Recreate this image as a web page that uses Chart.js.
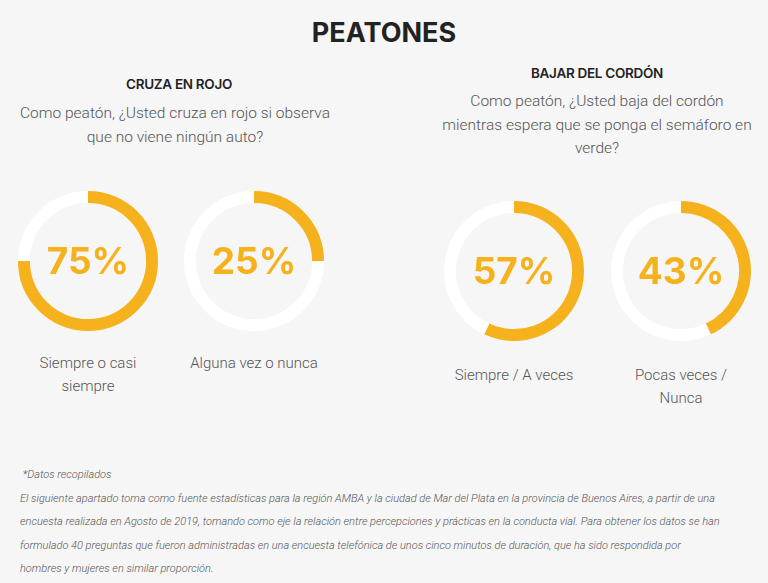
<!DOCTYPE html>
<html>
<head>
<meta charset="utf-8">
<script src="https://cdn.jsdelivr.net/npm/chart.js@4"></script>
<style>
    body { margin: 0; background: #f6f6f6; width: 768px; height: 583px; position: relative; overflow: hidden; font-family: Roboto, sans-serif; }
    .t { position: absolute; text-align: center; white-space: nowrap; }
    #title { left: 0; width: 768px; top: 16px; font: 700 27px Inter, sans-serif; color: #222; }
    .head { font: 600 13.5px Inter, sans-serif; color: #222; letter-spacing: -0.3px; }
    .q { font: 300 15.5px Roboto, sans-serif; color: #555; line-height: 23.5px; }
    .lab { font: 300 15px Roboto, sans-serif; color: #555; line-height: 23px; }
    canvas { position: absolute; }
    #foot { position: absolute; left: 20px; top: 463px; width: 748px; white-space: nowrap; font: italic 300 11px Roboto, sans-serif; color: #555; line-height: 23.6px; }
</style>
</head>
<body>
<div id="title" class="t">PEATONES</div>

<div class="t head" style="left:79px;width:200px;top:76px">CRUZA EN ROJO</div>
<div class="t q" style="left:0;width:350px;top:102px">Como peatón, ¿Usted cruza en rojo si observa<br>que no viene ningún auto?</div>

<div class="t head" style="left:497px;width:200px;top:65px">BAJAR DEL CORDÓN</div>
<div class="t q" style="left:420px;width:354px;top:90px">Como peatón, ¿Usted baja del cordón<br>mientras espera que se ponga el semáforo en<br>verde?</div>

<canvas id="c0" width="140" height="140" style="left:18px;top:191px"></canvas>
<canvas id="c1" width="140" height="140" style="left:184px;top:191px"></canvas>
<canvas id="c2" width="140" height="140" style="left:444px;top:201px"></canvas>
<canvas id="c3" width="140" height="140" style="left:611px;top:201px"></canvas>

<div class="t lab" style="left:8px;width:160px;top:352px">Siempre o casi<br>siempre</div>
<div class="t lab" style="left:174px;width:160px;top:352px">Alguna vez o nunca</div>
<div class="t lab" style="left:434px;width:160px;top:364px">Siempre / A veces</div>
<div class="t lab" style="left:601px;width:160px;top:364px">Pocas veces /<br>Nunca</div>

<div id="foot">&nbsp;*Datos recopilados<br>El siguiente apartado toma como fuente estadísticas para la región AMBA y la ciudad de Mar del Plata en la provincia de Buenos Aires, a partir de una<br>encuesta realizada en Agosto de 2019, tomando como eje la relación entre percepciones y prácticas en la conducta vial. Para obtener los datos se han<br>formulado 40 preguntas que fueron administradas en una encuesta telefónica de unos cinco minutos de duración, que ha sido respondida por<br>hombres y mujeres en similar proporción.</div>

<script>
// data
const cruzaLabels = ['Siempre o casi siempre', 'Alguna vez o nunca'];
const cruzaValues = [75, 25];
const cordonLabels = ['Siempre / A veces', 'Pocas veces / Nunca'];
const cordonValues = [57, 43];

const orange = '#f5b21c';

// draws the big % in the hole
const centerText = {
    id: 'centerText',
    afterDraw(chart) {
        const meta = chart.getDatasetMeta(0).data[0];
        const ctx = chart.ctx;
        ctx.save();
        ctx.font = '700 37px Inter, sans-serif';
        ctx.fillStyle = orange;
        ctx.textAlign = 'center';
        ctx.textBaseline = 'middle';
        ctx.fillText(chart.data.datasets[0].data[0] + '%', meta.x, meta.y + 2);
        ctx.restore();
    }
};

function makeDonut(id, labels, values, i) {
    new Chart(document.getElementById(id), {
        type: 'doughnut',
        data: {
            labels: [labels[i], labels[1 - i]],
            datasets: [{
                data: [values[i], values[1 - i]],
                backgroundColor: [orange, '#ffffff'],
                borderWidth: 0
            }]
        },
        options: {
            responsive: false,
            animation: false,
            cutout: '83%',
            plugins: { legend: { display: false }, tooltip: { enabled: false } }
        },
        plugins: [centerText]
    });
}

makeDonut('c0', cruzaLabels, cruzaValues, 0);
makeDonut('c1', cruzaLabels, cruzaValues, 1);
makeDonut('c2', cordonLabels, cordonValues, 0);
makeDonut('c3', cordonLabels, cordonValues, 1);
</script>
</body>
</html>
